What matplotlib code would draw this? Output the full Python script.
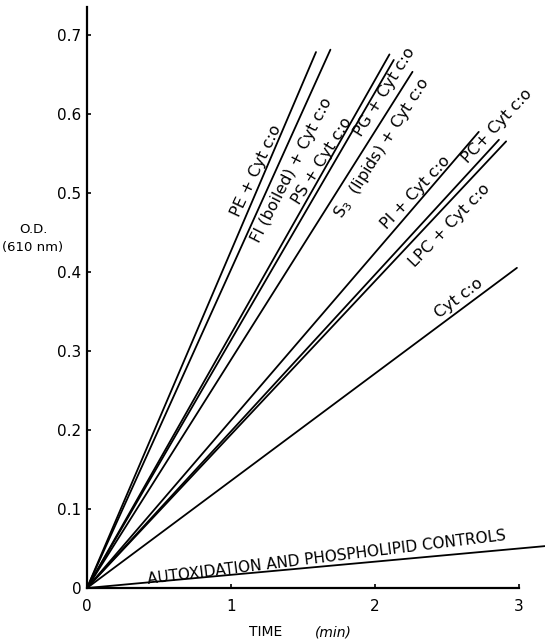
import matplotlib
matplotlib.use("Agg")
import matplotlib.pyplot as plt

# ---- data ----
labels = ["PE + Cyt c:o", "FI (boiled) + Cyt c:o", "PS + Cyt c:o", "PG + Cyt c:o",
          "S$_3$  (lipids) + Cyt c:o", "PI + Cyt c:o", "PC+ Cyt c:o",
          "LPC + Cyt c:o", "Cyt c:o"]
x_end = [1.59, 1.69, 2.10, 2.13, 2.26, 2.72, 2.86, 2.91, 2.985]
y_end = [0.678, 0.681, 0.675, 0.668, 0.653, 0.577, 0.567, 0.565, 0.405]

control_label = "AUTOXIDATION AND PHOSPHOLIPID CONTROLS"
control_x = [0.0, 3.18]
control_y = [0.0, 0.053]

# label placement (data coords) and rotation
lab_x = [1.174, 1.424, 1.632, 2.069, 2.049, 2.278, 2.847, 2.514, 2.583]
lab_y = [0.528, 0.528, 0.540, 0.627, 0.557, 0.500, 0.584, 0.459, 0.366]
lab_rot = [65, 63, 58, 58, 57.5, 47, 47, 46, 37]

xticks = [0, 1, 2, 3]
xticklabels = ["0", "1", "2", "3"]
yticks = [0, 0.1, 0.2, 0.3, 0.4, 0.5, 0.6, 0.7]
yticklabels = ["0", "0.1", "0.2", "0.3", "0.4", "0.5", "0.6", "0.7"]

plt.rcParams['font.family'] = ['DejaVu Sans']

fig = plt.figure(figsize=(5.45, 6.42), dpi=100)
W, H = 545, 642
ax = fig.add_axes([87 / W, 54 / H, 458 / W, (588 - 7) / H])

for xe, ye in zip(x_end, y_end):
    ax.plot([0, xe], [0, ye], color="black", lw=1.3, solid_capstyle="round")
ax.plot(control_x, control_y, color="black", lw=1.3)

for t, lx, ly, r in zip(labels, lab_x, lab_y, lab_rot):
    ax.text(lx, ly, t, rotation=r, rotation_mode="anchor", ha="center", va="center",
            fontsize=11.5)
ax.text(1.667, 0.038, control_label, rotation=7, rotation_mode="anchor",
        ha="center", va="center", fontsize=11)

ax.set_xlim(0, 3.18)
ax.set_ylim(0, 0.735)
ax.spines["top"].set_visible(False)
ax.spines["right"].set_visible(False)
ax.spines["bottom"].set_bounds(0, 3.0)
for s in ("left", "bottom"):
    ax.spines[s].set_linewidth(1.6)
ax.set_xticks(xticks)
ax.set_xticklabels(xticklabels)
ax.set_yticks(yticks)
ax.set_yticklabels(yticklabels)
ax.tick_params(axis="both", direction="in", length=3, width=1.2, labelsize=11)
ax.tick_params(axis="x", pad=8)
ax.tick_params(axis="y", pad=4)

fig.text(33 / W, 1 - 230 / H, "O.D.", ha="center", va="center", fontsize=9.5)
fig.text(33 / W, 1 - 247 / H, "(610 nm)", ha="center", va="center", fontsize=9.5)
fig.text(266 / W, 1 - 632 / H, "TIME", ha="center", va="center", fontsize=10)
fig.text(333 / W, 1 - 632 / H, "(min)", ha="center", va="center", fontsize=10,
         style="italic")

fig.savefig("out.png", dpi=100)
